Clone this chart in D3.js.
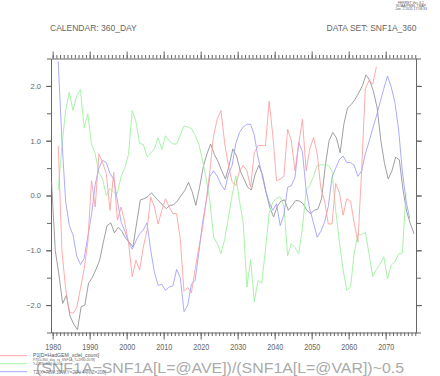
<!DOCTYPE html>
<html>
<head>
<meta charset="utf-8">
<script src="https://cdn.jsdelivr.net/npm/d3@7"></script>
<style>
body { margin: 0; background: #fff; }
svg { display: block; }
text { font-family: "Liberation Sans", Arial, sans-serif; }
</style>
</head>
<body>
<svg width="440" height="376"></svg>
<script>
// yearly series, first value at the given (mid-year) time
var redStart = 1981.5;
var redValues = [0.91, -1.0, -1.7, -2.12, -2.15, -2.05, -1.7, -1.35, -0.85, 0.27,
  -0.21, 0.76, 0.6, 0.4, -0.27, 0.42, -0.45, -0.21, -0.5, -0.85,
  -1.48, -1.18, -1.36, -0.94, -0.64, -0.03, -0.21, -0.52, -0.27, -0.06,
  -0.21, -0.33, -0.33, -0.8, -1.75, -1.68, -1.78, -1.35, -0.95, -0.6,
  -0.1, 0.45, 1.1, 1.4, 1.55, 0.95, 0.55, 0.25, 0.18, 0.45,
  0.55, 0.45, 0.15, 0.78, 0.91, 0.91, 0.91, 1.72, 1.1, 0.27,
  0.3, 0.35, 1.21, 1.0, 0.45, 0.94, 1.39, 0.45, 0.85, 1.06,
  0.76, 0.12, -0.1, -0.52, -0.52, 0.22, 0.05, -0.36, -0.06, -0.1,
  -0.5, -0.85, 0.45, 1.95, 2.1, 2.03, 2.35];

var greenStart = 1981.5;
var greenValues = [0.1, 0.9, 1.55, 1.88, 1.55, 1.82, 1.93, 1.24, 1.49, 0.94,
  0.76, 0.42, 0.3, 0.0, 0.13, 0.06, 0.04, 0.35, 0.5, 0.75,
  1.55, 1.35, 0.95, 0.93, 0.71, 0.77, 0.86, 1.05, 0.84, 1.09,
  1.0, 0.94, 0.94, 1.1, 1.27, 1.25, 1.22, 1.1, 0.94, 0.65,
  0.3, -0.1, -0.76, -0.88, -1.06, -0.8, -0.4, 0.0, 0.36, -0.1,
  -0.5, -1.67, -1.17, -1.94, -1.55, -1.6, -1.0, -0.33, -0.12, -0.05,
  -0.03, -0.2, -1.1, -0.88, -0.95, -1.06, -0.6, 0.1, 0.18, 0.35,
  0.55, 0.56, 0.56, 0.55, 0.45, -0.27, -0.85, -1.36, -1.73, -1.67,
  -1.06, -0.7, -0.72, -0.67, -1.06, -1.48, -1.35, -1.25, -1.12, -1.52,
  -1.27, -1.21, -1.07, -1.05, 0.05];

var blueStart = 1981.5;
var blueValues = [2.45, 1.0, -0.1, -0.55, -0.72, -1.1, -1.26, -1.15, -0.75, -0.35,
  0.2, 0.5, 0.64, 0.6, 0.4, 0.3, -0.1, -0.48, -0.65, -0.85,
  -0.98, -0.83, -0.7, -0.63, -0.5, -1.0, -1.4, -1.64, -1.62, -1.73,
  -1.67, -1.65, -1.35, -1.5, -2.12, -2.0, -1.62, -1.55, -1.05, -0.5,
  -0.1, 0.35, 0.45, 0.35, 0.2, 0.1, 0.39, 0.55, 0.95, 1.15,
  1.25, 1.3, 1.3, 1.1, 0.7, 0.4, 0.1, -0.12, -0.27, -0.15,
  -0.55, -0.35, 0.15, 0.18, 0.33, 0.97, 0.8, 0.1, -0.25, -0.5,
  -0.76, -0.65, -0.48, -0.2, 0.33, 0.5, 0.66, 0.72, 0.6, 0.6,
  0.55, 0.35, 0.45, 0.76, 0.98, 1.22, 1.45, 1.7, 1.95, 2.18,
  1.98, 1.7, 1.2, 0.45, -0.09, -0.42];

var grayStart = 1979.7;
var grayValues = [0.25, -1.0, -1.45, -1.97, -1.82, -2.2, -2.35, -2.45, -2.03, -2.0,
  -1.6, -1.5, -1.35, -1.18, -0.85, -0.55, -0.5, -0.68, -0.58, -0.65,
  -0.78, -0.85, -0.94, -0.5, -0.08, -0.06, -0.02, 0.05, -0.03, -0.1,
  -0.17, -0.24, -0.18, -0.17, -0.1, 0.0, 0.09, 0.24, 0.07, -0.18,
  0.15, 0.52, 0.76, 0.94, 0.75, 0.62, 0.45, 0.3, 0.55, 0.85,
  0.72, 0.45, 0.3, 0.15, 0.1, 0.38, 0.55, 0.38, 0.05, -0.22,
  -0.39, -0.2, -0.1, -0.08, -0.27, -0.18, -0.09, -0.1, -0.15, -0.27,
  -0.33, -0.27, -0.25, -0.05, 0.55, 1.0, 1.15, 1.05, 0.78, 1.3,
  1.6, 1.66, 1.75, 1.87, 2.0, 2.2, 2.1, 1.9, 1.6, 1.0,
  0.58, 0.3, 0.45, 0.7, 0.65, 0.1, -0.3, -0.52, -0.7];

var xTickYears = [1980, 1990, 2000, 2010, 2020, 2030, 2040, 2050, 2060, 2070];
var yTickValues = [-2, -1, 0, 1, 2];

var legendLabels = ["P1[D=HadGEM_xclel_count]",
  "P7[D=360_day_sy_SNF1A_T=1980:2078]",
  "T2[X=70W:30W,Y=20N:44N,Z=200]"];
var titleText = "(SNF1A\u2212SNF1A[L=@AVE])/(SNF1A[L=@VAR])~0.5";

var svg = d3.select("svg");
svg.append("rect").attr("width", 440).attr("height", 376).attr("fill", "#fff");

var x = d3.scaleLinear().domain([1979.55, 2078.2]).range([51, 416]),
    y = d3.scaleLinear().domain([-2.5, 2.5]).range([332.5, 58.5]);

var axisColor = "#666";

function styleAxis(g) {
  g.selectAll("path, line").attr("stroke", axisColor).attr("stroke-width", 1);
  g.selectAll("text").attr("fill", axisColor);
}

var minorYears = d3.range(1980, 2079);
var minorY = d3.range(-2.5, 2.51, 0.5);

// bottom axis
svg.append("g").attr("transform", "translate(0,332.5)")
  .call(d3.axisBottom(x).tickValues(minorYears).tickSize(3.5).tickSizeOuter(0).tickFormat(""))
  .call(styleAxis);
var bx = svg.append("g").attr("transform", "translate(0,332.5)")
  .call(d3.axisBottom(x).tickValues(xTickYears).tickSize(7).tickPadding(4).tickFormat(d3.format("d")))
  .call(styleAxis);
bx.select(".domain").remove();
bx.selectAll("text").attr("font-size", 9).attr("font-family", "Liberation Sans, Arial, sans-serif")
  .attr("textLength", 16).attr("lengthAdjust", "spacingAndGlyphs");

// top axis
svg.append("g").attr("transform", "translate(0,58.5)")
  .call(d3.axisTop(x).tickValues(minorYears).tickSize(3.5).tickSizeOuter(0).tickFormat(""))
  .call(styleAxis);
svg.append("g").attr("transform", "translate(0,58.5)")
  .call(d3.axisTop(x).tickValues(xTickYears).tickSize(7).tickFormat(""))
  .call(styleAxis)
  .select(".domain").remove();

// left axis
svg.append("g").attr("transform", "translate(51,0)")
  .call(d3.axisLeft(y).tickValues(minorY).tickSize(4).tickSizeOuter(0).tickFormat(""))
  .call(styleAxis);
var ly = svg.append("g").attr("transform", "translate(51,0)")
  .call(d3.axisLeft(y).tickValues(yTickValues).tickSize(5).tickPadding(5).tickFormat(d3.format(".1f")))
  .call(styleAxis);
ly.select(".domain").remove();
ly.selectAll("text").attr("font-size", 7.5).attr("font-family", "Liberation Sans, Arial, sans-serif");

// right axis
svg.append("g").attr("transform", "translate(416,0)")
  .call(d3.axisRight(y).tickValues(minorY).tickSize(5).tickSizeOuter(0).tickFormat(""))
  .call(styleAxis);
svg.append("g").attr("transform", "translate(416,0)")
  .call(d3.axisRight(y).tickValues(yTickValues).tickSize(6).tickFormat(""))
  .call(styleAxis)
  .select(".domain").remove();

// series
var line = d3.line()
  .x(function(d) { return x(d.t); })
  .y(function(d) { return y(d.v); });

function toPoints(start, vals) {
  return vals.map(function(v, i) { return { t: start + i, v: v }; });
}

var series = [
  { data: toPoints(grayStart, grayValues), color: "#8e8e8e" },
  { data: toPoints(greenStart, greenValues), color: "#98f098" },
  { data: toPoints(blueStart, blueValues), color: "#9c9cff" },
  { data: toPoints(redStart, redValues), color: "#ff9c9c" }
];

svg.selectAll(".series")
  .data(series)
  .enter().append("path")
  .attr("class", "series")
  .attr("fill", "none")
  .attr("stroke", function(d) { return d.color; })
  .attr("stroke-width", 0.85)
  .attr("d", function(d) { return line(d.data); });

// header texts
svg.append("text").attr("x", 50).attr("y", 31).attr("font-size", 8.5).attr("fill", "#666")
  .text("CALENDAR: 360_DAY");
svg.append("text").attr("x", 416.5).attr("y", 31).attr("font-size", 8.5).attr("fill", "#666")
  .attr("text-anchor", "end").text("DATA SET: SNF1A_360");

var stamp = ["FERRET Ver. 6.1", "NOAA/PMEL TMAP", "Jun  2 2011 17:58:33"];
svg.selectAll(".stamp").data(stamp).enter().append("text")
  .attr("class", "stamp")
  .attr("x", 411).attr("y", function(d, i) { return 3.5 + i * 3.3; })
  .attr("text-anchor", "middle").attr("font-size", 3.4).attr("fill", "#555")
  .attr("xml:space", "preserve")
  .text(function(d) { return d; });

// legend
var legendColors = ["#ff9c9c", "#98f098", "#9c9cff"];
var legendY = [355.7, 363.7, 371.7];
legendLabels.forEach(function(lbl, i) {
  svg.append("line").attr("x1", 0).attr("x2", 27)
    .attr("y1", legendY[i]).attr("y2", legendY[i])
    .attr("stroke", legendColors[i]).attr("stroke-width", 0.9);
});

svg.append("text").attr("x", 36).attr("y", 372.5)
  .attr("font-family", "Liberation Serif, Times New Roman, serif")
  .attr("font-size", 15.5).attr("fill", "#aaa")
  .attr("textLength", 368).attr("lengthAdjust", "spacingAndGlyphs")
  .text(titleText);

svg.append("text").attr("x", 33).attr("y", 357).attr("font-size", 5.2).attr("fill", "#555")
  .text(legendLabels[0]);
svg.append("text").attr("x", 33).attr("y", 361.3).attr("font-size", 3.3).attr("fill", "#666")
  .text(legendLabels[1]);
svg.append("text").attr("x", 33).attr("y", 365).attr("font-size", 3.3).attr("fill", "#666")
  .text("Y=[20N:44N]:Z=200");
svg.append("text").attr("x", 33).attr("y", 373.5).attr("font-size", 4.6).attr("fill", "#778")
  .text(legendLabels[2]);
</script>
</body>
</html>
